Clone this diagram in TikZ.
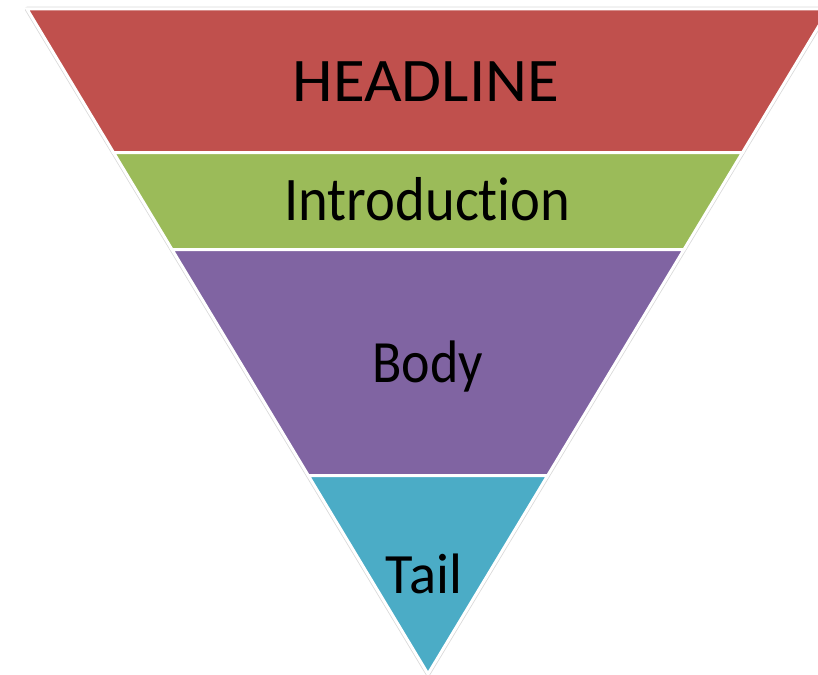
\documentclass[tikz,border=0pt]{standalone}
\usepackage{fontspec}
\setmainfont{Carlito}[Ligatures=NoCommon]
\definecolor{hred}{HTML}{C0504D}
\definecolor{igreen}{HTML}{9BBB59}
\definecolor{bpurple}{HTML}{8064A2}
\definecolor{tteal}{HTML}{4BACC6}
\begin{document}
\begin{tikzpicture}[x=1pt,y=-1pt,
  band/.style={draw=white,line width=3pt,line join=miter},
  lbl/.style={anchor=base,inner sep=0pt,text=black}]
\useasboundingbox (0,0) rectangle (818,674);
\clip (0,0) rectangle (818,674);
% geometry: x_l(y)=27+0.603(y-9), x_r(y)=829-0.603(y-9)
\coordinate (TL) at (27,9);
\coordinate (TR) at (829,9);
\coordinate (AP) at (428,674);
\draw[gray!30,line width=4.6pt,line join=round] (TL) -- (TR) -- (AP) -- cycle;
\fill[white] (TL) -- (TR) -- (AP) -- cycle;
% bands
\filldraw[band,fill=hred] (27,9) -- (829,9) -- (742.5,152.5) -- (113.5,152.5) -- cycle;
\filldraw[band,fill=igreen] (113.5,152.5) -- (742.5,152.5) -- (684,249.5) -- (172,249.5) -- cycle;
\filldraw[band,fill=bpurple] (172,249.5) -- (684,249.5) -- (547.7,475.5) -- (308.3,475.5) -- cycle;
\filldraw[band,fill=tteal,line join=round] (308.3,475.5) -- (547.7,475.5) -- (AP) -- cycle;
% labels
\node[lbl] (h) at (426,101.7) {\scalebox{1.048}[1]{\fontsize{62}{70}\selectfont HEADLINE}};
\node[lbl] (i) at (427.5,220) {\scalebox{0.913}[1]{\fontsize{62}{70}\selectfont Introduction}};
\node[lbl] (b) at (427.5,382) {\scalebox{0.90}[1]{\fontsize{60}{70}\selectfont Body}};
\node[lbl] (t) at (424,593) {\scalebox{0.99}[1]{\fontsize{57}{70}\selectfont Tail}};
\end{tikzpicture}
\end{document}
